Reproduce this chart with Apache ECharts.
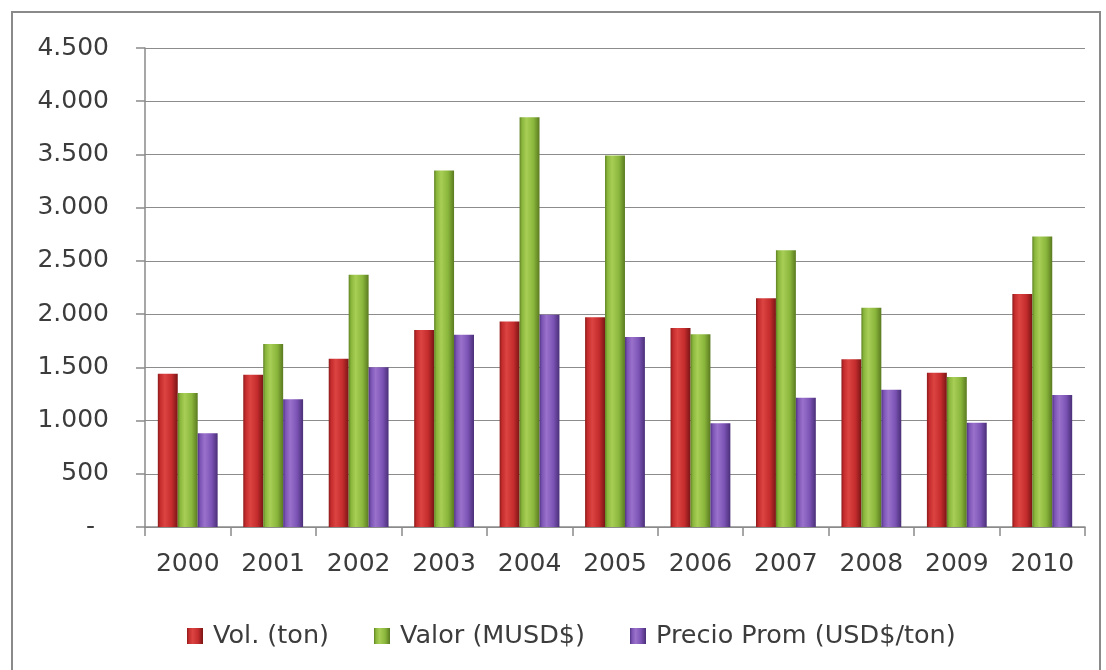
<!DOCTYPE html>
<html>
<head>
<meta charset="utf-8">
<script src="https://cdn.jsdelivr.net/npm/echarts@6/dist/echarts.min.js"></script>
<style>
  html, body { margin: 0; padding: 0; background: #ffffff; }
  #chart { width: 1106px; height: 670px; }
</style>
</head>
<body>
<div id="chart"></div>
<script>
// Annual figures 2000-2010
const years = ['2000', '2001', '2002', '2003', '2004', '2005', '2006', '2007', '2008', '2009', '2010'];
const volumen = [1440, 1430, 1580, 1850, 1930, 1970, 1870, 2150, 1575, 1450, 2190];
const valor = [1260, 1720, 2370, 3350, 3850, 3490, 1810, 2600, 2060, 1410, 2730];
const precio = [880, 1200, 1500, 1805, 1995, 1785, 975, 1215, 1290, 980, 1240];
const seriesNames = ['Vol. (ton)', 'Valor (MUSD$)', 'Precio Prom (USD$/ton)'];

const FONT = 'DejaVu Sans';
const TEXT = '#3c3c3c';

// Horizontal gradient gives each bar a rounded, cylinder-like shading
function shade(dark, light, mid, edge) {
  return new echarts.graphic.LinearGradient(0, 0, 1, 0, [
    { offset: 0, color: dark },
    { offset: 0.12, color: mid },
    { offset: 0.35, color: light },
    { offset: 0.7, color: mid },
    { offset: 1, color: edge }
  ]);
}
const redFill = shade('#8c1a1a', '#dc4442', '#c42c2d', '#7a1515');
const greenFill = shade('#5f8222', '#a8ce56', '#8ab63c', '#5a7a20');
const purpleFill = shade('#4f3380', '#9a72cc', '#7b53b4', '#4a2f78');

function fmtThousands(v) {
  if (v === 0) return '{z|-}';
  return String(v).replace(/\B(?=(\d{3})+(?!\d))/g, '.');
}

function barSeries(name, data, fill) {
  return {
    name: name,
    type: 'bar',
    data: data,
    barGap: '0%',
    barCategoryGap: '30%',
    itemStyle: { color: fill },
    emphasis: { disabled: true }
  };
}

const chart = echarts.init(document.getElementById('chart'), null, { renderer: 'canvas' });
chart.setOption({
  animation: false,
  backgroundColor: '#ffffff',
  graphic: [{
    type: 'rect',
    shape: { x: 12, y: 12, width: 1088, height: 690 },
    style: { fill: 'none', stroke: '#8a8a8a', lineWidth: 2 },
    silent: true
  }],
  grid: { left: 145, right: 21, top: 48, bottom: 143, containLabel: false },
  legend: {
    left: 182,
    top: 618,
    itemWidth: 16,
    itemHeight: 16,
    itemGap: 45,
    icon: 'rect',
    textStyle: { fontFamily: FONT, fontSize: 25.5, color: TEXT, padding: [0, 0, 0, 5] },
    data: seriesNames
  },
  xAxis: {
    type: 'category',
    data: years,
    axisLine: { lineStyle: { color: '#8a8a8a', width: 1.5 } },
    axisTick: { show: true, alignWithLabel: false, length: 9, lineStyle: { color: '#8a8a8a', width: 1.5 } },
    axisLabel: { fontFamily: FONT, fontSize: 25, color: TEXT, margin: 25 },
    splitLine: { show: false }
  },
  yAxis: {
    type: 'value',
    min: 0,
    max: 4500,
    interval: 500,
    axisLine: { show: true, lineStyle: { color: '#8a8a8a', width: 1.5 } },
    axisTick: { show: true, length: 9, lineStyle: { color: '#8a8a8a', width: 1.5 } },
    axisLabel: {
      fontFamily: FONT, fontSize: 25, color: TEXT, margin: 36,
      formatter: fmtThousands,
      rich: { z: { fontFamily: FONT, fontSize: 25, color: TEXT, padding: [0, 14, 0, 0] } }
    },
    splitLine: { show: true, lineStyle: { color: '#8c8c8c', width: 1.2 } }
  },
  series: [
    barSeries(seriesNames[0], volumen, redFill),
    barSeries(seriesNames[1], valor, greenFill),
    barSeries(seriesNames[2], precio, purpleFill)
  ]
});
</script>
</body>
</html>
